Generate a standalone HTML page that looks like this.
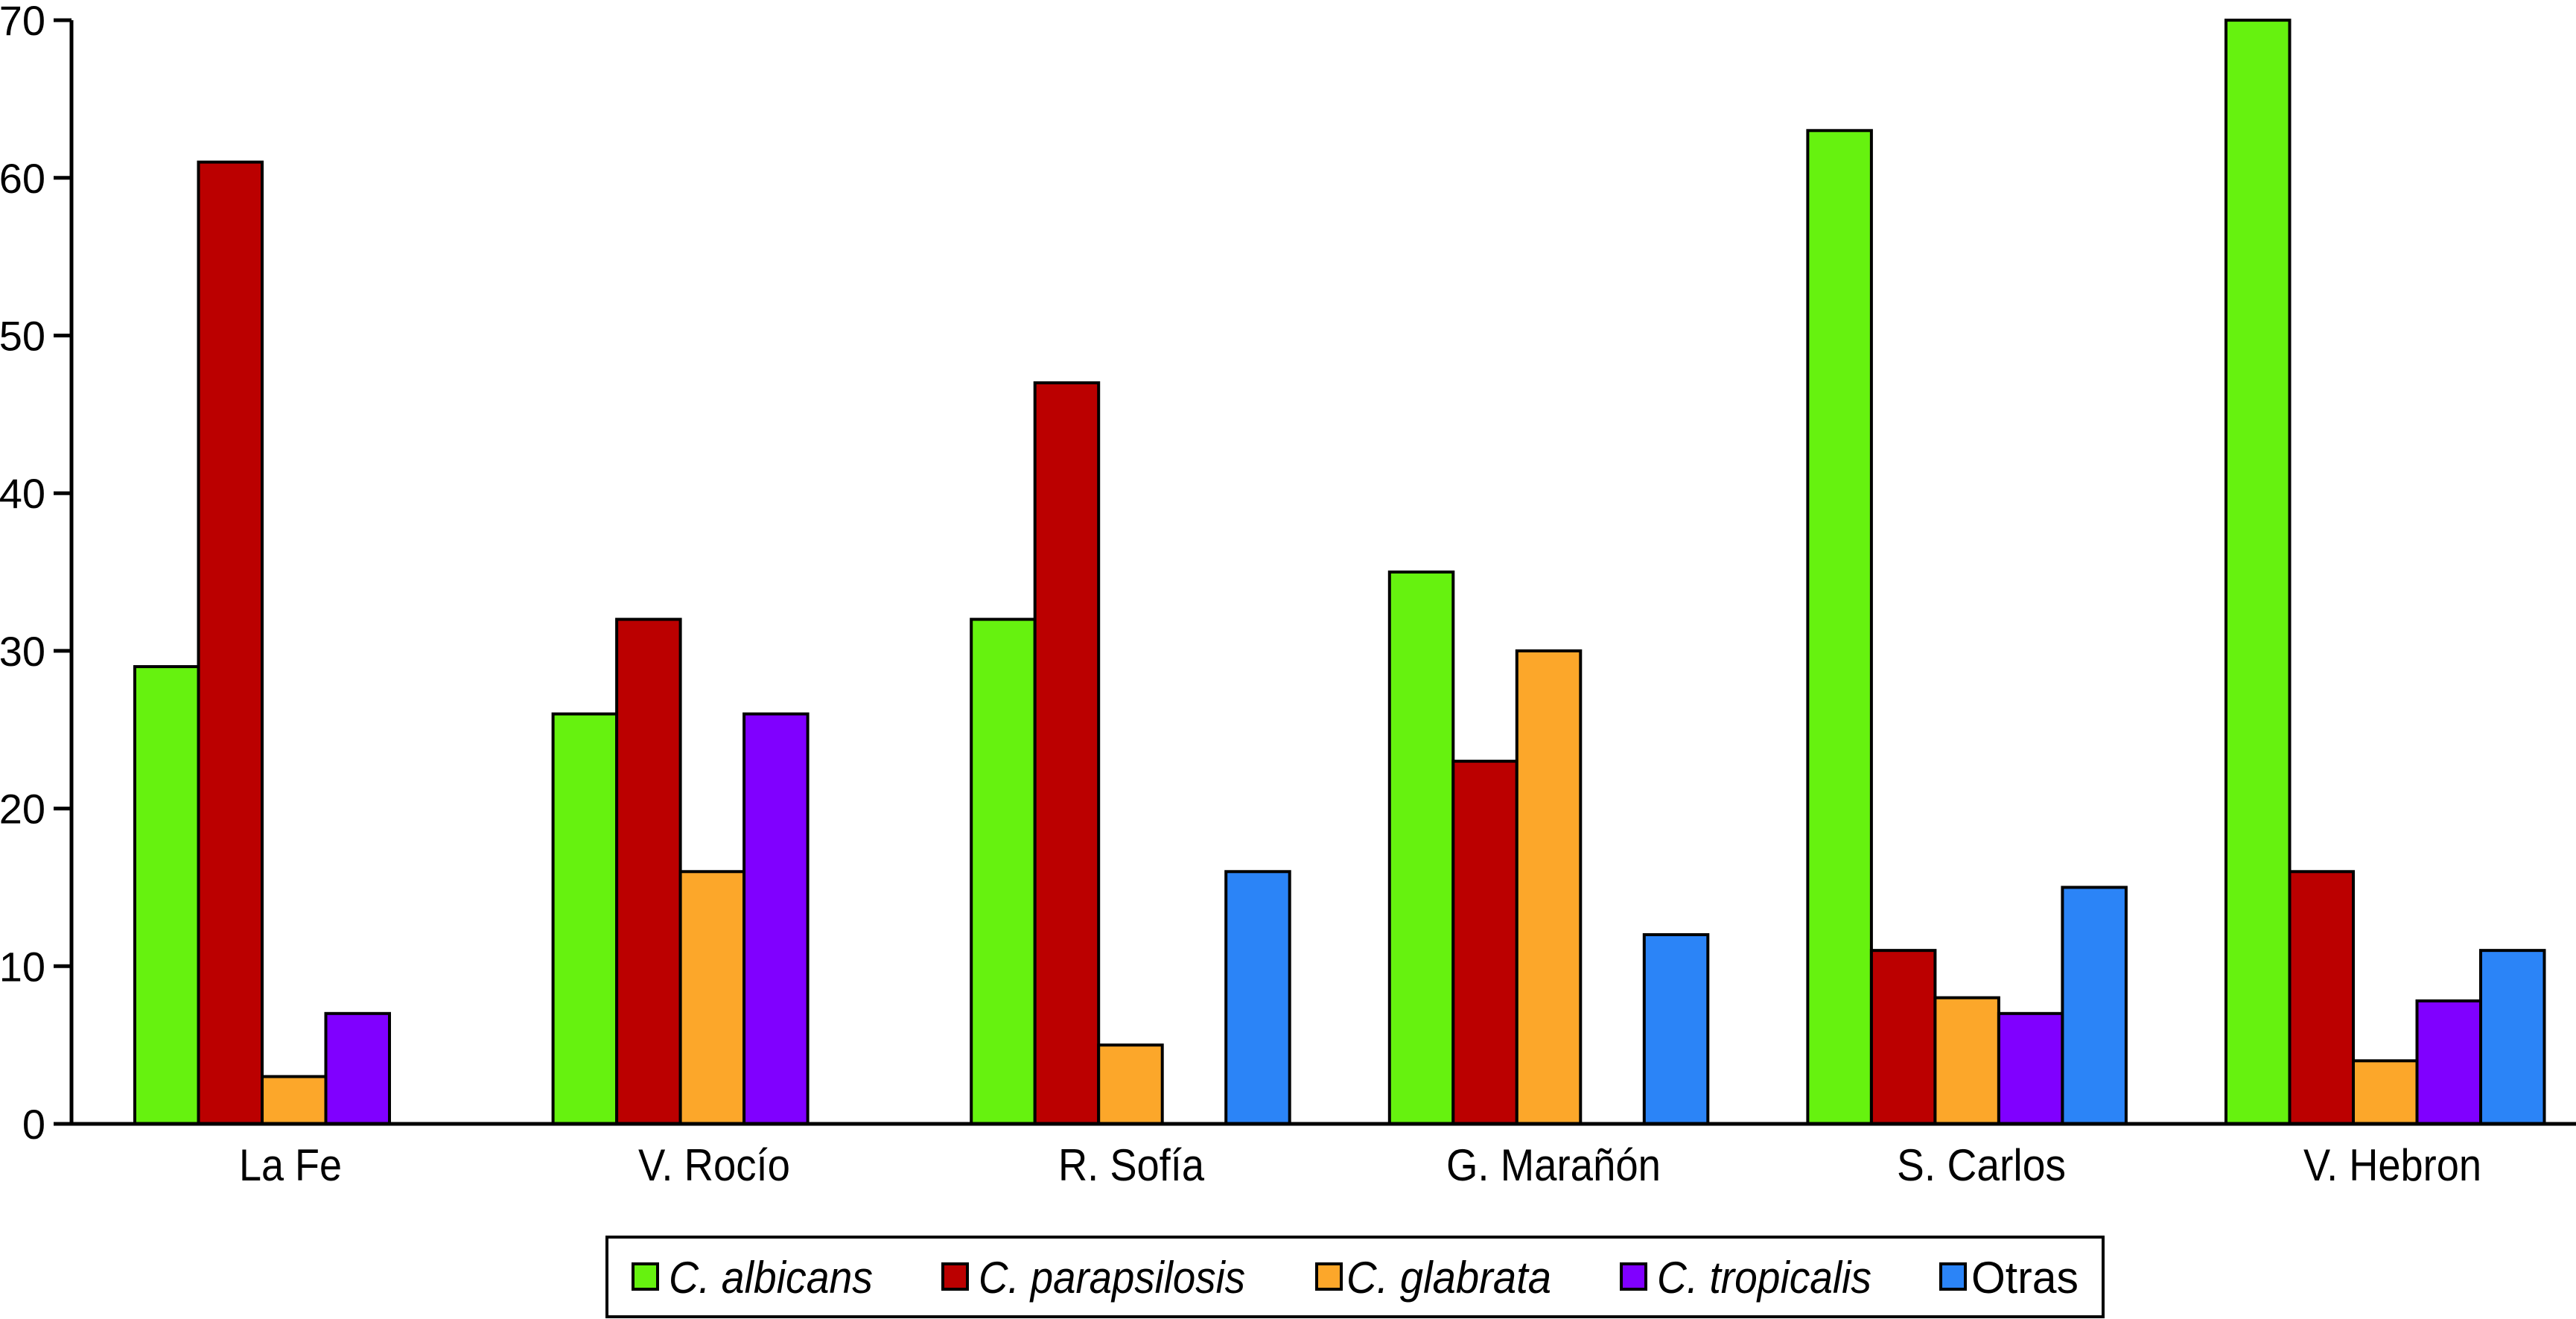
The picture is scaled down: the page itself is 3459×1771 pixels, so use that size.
<!DOCTYPE html>
<html><head><meta charset="utf-8"><style>html,body{margin:0;padding:0;background:#fff}svg{display:block}</style></head>
<body>
<svg id="chart" xmlns="http://www.w3.org/2000/svg" width="3459" height="1771" viewBox="0 0 3459 1771" font-family="'Liberation Sans', Arial, sans-serif">
<rect width="3459" height="1771" fill="#fff"/>
<g id="bars"></g>
<g id="axes"></g>
<g id="legend"></g>
</svg>
<script>
const categories = ["La Fe", "V. Rocío", "R. Sofía", "G. Marañón", "S. Carlos", "V. Hebron"];
const seriesNames = ["C. albicans", "C. parapsilosis", "C. glabrata", "C. tropicalis", "Otras"];
const albicans = [29, 26, 32, 35, 63, 70];
const parapsilosis = [61, 32, 47, 23, 11, 16];
const glabrata = [3, 16, 5, 30, 8, 4];
const tropicalis = [7, 26, 0, 0, 7, 7.8];
const otras = [0, 0, 16, 12, 15, 11];
const yTicks = [0, 10, 20, 30, 40, 50, 60, 70];

const series = [albicans, parapsilosis, glabrata, tropicalis, otras];
const colors = ["#66f20f", "#bb0000", "#fca72a", "#8000ff", "#2b84f7"];
const legendX = [850, 1266, 1768, 2177, 2606];
const legendTextX = [898, 1314, 1808, 2225, 2647];
const legendLen = [274, 358, 275, 288, 144];
const catX = [321, 857, 1421, 1942, 2547, 3093];
const catLen = [138, 204, 196, 288, 227, 239];
const NS = "http://www.w3.org/2000/svg";
const y0 = 1509, unit = 21.17, x0 = 181, groupStep = 561.6, barW = 85.5;
function yScale(v){ return y0 - v * unit; }
function xScale(ci, si){ return x0 + ci * groupStep + si * barW; }
function mk(tag, attrs, parent){ const e = document.createElementNS(NS, tag); for (const k in attrs) e.setAttribute(k, attrs[k]); parent.appendChild(e); return e; }

const bars = document.getElementById('bars');
series.forEach((vals, si) => {
  vals.forEach((v, ci) => {
    if (v <= 0) return;
    const r = mk('rect', {x: xScale(ci, si), y: yScale(v), width: barW, height: y0 - yScale(v), fill: colors[si], stroke: '#000', 'stroke-width': 4}, bars);
    
    
  });
});

const axes = document.getElementById('axes');
const yl = mk('line', {x1: 96, y1: yScale(70), x2: 96, y2: y0, stroke: '#000', 'stroke-width': 5}, axes);


const xl = mk('line', {x1: 72, y1: y0, x2: 3459, y2: y0, stroke: '#000', 'stroke-width': 5}, axes);


yTicks.forEach(t => {
  const tk = mk('line', {x1: 72, y1: yScale(t), x2: 96, y2: yScale(t), stroke: '#000', 'stroke-width': 5}, axes);
  
  
  const tx = mk('text', {x: 61, y: yScale(t) + 20, 'text-anchor': 'end', 'font-size': 56, fill: '#000'}, axes);
  tx.textContent = t;
  
  
});
categories.forEach((c, ci) => {
  const tx = mk('text', {x: catX[ci], y: 1585, 'font-size': 60, fill: '#000', textLength: catLen[ci], lengthAdjust: 'spacingAndGlyphs'}, axes);
  tx.textContent = c;
  
  
});

const lg = document.getElementById('legend');
const box = mk('rect', {x: 815, y: 1661, width: 2009, height: 107, fill: '#fff', stroke: '#000', 'stroke-width': 4}, lg);


seriesNames.forEach((n, i) => {
  const sw = mk('rect', {x: legendX[i], y: 1697, width: 33, height: 34, fill: colors[i], stroke: '#000', 'stroke-width': 4}, lg);
  
  
  const tx = mk('text', {x: legendTextX[i], y: 1736, 'font-size': 60, fill: '#000', 'font-style': i < 4 ? 'italic' : 'normal', textLength: legendLen[i], lengthAdjust: 'spacingAndGlyphs'}, lg);
  tx.textContent = n;
  
  
});
</script>
</body></html>
